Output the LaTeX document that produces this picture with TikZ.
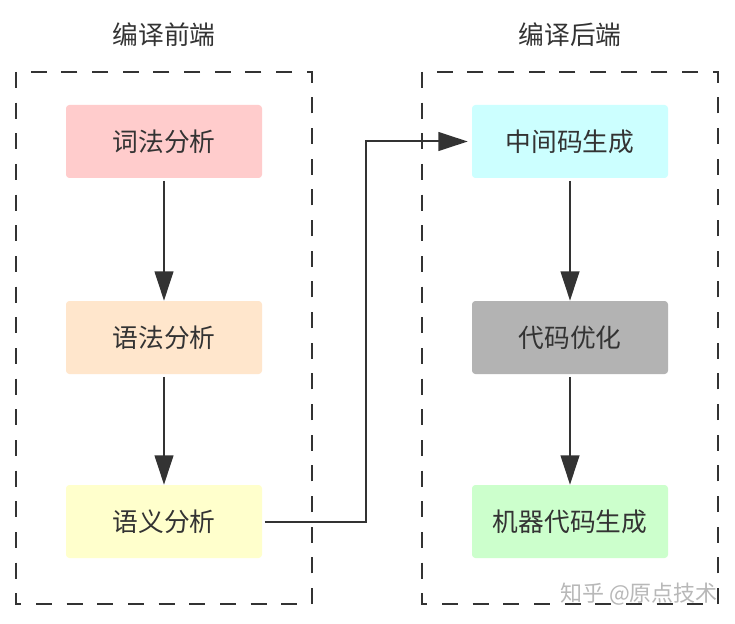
\documentclass[tikz,border=0pt]{standalone}
\usepackage{fontspec}
\setmainfont{Noto Sans CJK SC}
\usetikzlibrary{arrows.meta}
\definecolor{txt}{HTML}{333333}
\definecolor{cA}{HTML}{FFCCCC}
\definecolor{cB}{HTML}{FFE6CC}
\definecolor{cC}{HTML}{FFFFCC}
\definecolor{cD}{HTML}{CCFFFF}
\definecolor{cE}{HTML}{B3B3B3}
\definecolor{cF}{HTML}{CCFFCC}
\tikzset{
  stage/.style={rectangle, rounded corners=2.5pt, draw=none, minimum width=147pt, minimum height=54.75pt, text=txt, font=\fontsize{19.3}{21}\selectfont, inner sep=0pt},
  grp/.style={draw=txt, line width=1.5pt, dash pattern=on 12pt off 11pt},
  flow/.style={draw=txt, line width=1.5pt, -{Triangle[length=22pt,width=14pt]}},
  ttl/.style={text=txt, font=\fontsize{19.3}{21}\selectfont},
}
\begin{document}
\begin{tikzpicture}[x=0.75pt,y=-0.75pt]
\useasboundingbox (0,0) rectangle (735,624);
\fill[white] (0,0) rectangle (735,624);
% groups
\draw[grp] (16,72) rectangle (312,604);
\draw[grp] (422,72) rectangle (718,604);
\node[ttl] (t1) at (164,35) {编译前端};
\node[ttl] (t2) at (570,35) {编译后端};
% stages
\node[stage, fill=cA] (a) at (164,141.5) {词法分析};
\node[stage, fill=cB] (b) at (164,337.5) {语法分析};
\node[stage, fill=cC] (c) at (164,521.5) {语义分析};
\node[stage, fill=cD] (d) at (570,141.5) {中间码生成};
\node[stage, fill=cE] (e) at (570,337.5) {代码优化};
\node[stage, fill=cF] (f) at (570,521.5) {机器代码生成};
% connectors
\draw[flow] ([yshift=-2pt]a.south) -- (b.north);
\draw[flow] ([yshift=-2pt]b.south) -- (c.north);
\coordinate (m1) at (366,521.5);
\coordinate (m2) at (366,141.5);
\draw[flow] ([xshift=2pt]c.east) -- (m1) -- (m2) -- ([xshift=-3pt]d.west);
\draw[flow] ([yshift=-2pt]d.south) -- (e.north);
\draw[flow] ([yshift=-2pt]e.south) -- (f.north);
% watermark
\node[text=black!28, font=\fontsize{16.5}{18}\selectfont] (w) at (639,594) {知乎 @原点技术};
\end{tikzpicture}
\end{document}
